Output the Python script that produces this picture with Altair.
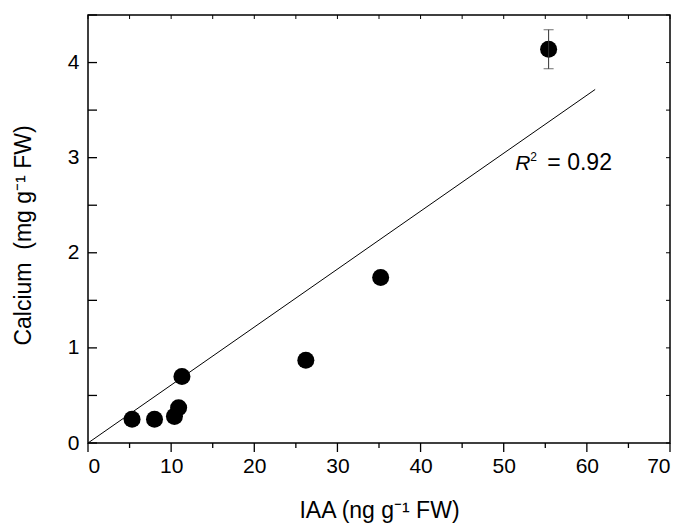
import altair as alt
import numpy as np
import pandas as pd

# ---- data ----
iaa = [5.3, 8.0, 10.4, 10.9, 11.3, 26.2, 35.2, 55.4]
calcium = [0.25, 0.25, 0.28, 0.37, 0.70, 0.87, 1.74, 4.14]
err_x = [55.4]
err_mean = [4.14]
err_sd = [0.205]
fit_x = [0.0, 61.0]
x_major = list(range(0, 80, 10))
x_minor = list(range(5, 70, 10))
x_all = list(range(0, 75, 5))
y_ticks = [i * 0.5 for i in range(10)]
r2_text = "= 0.92"

# regression through the origin
xa, ya = np.array(iaa), np.array(calcium)
slope = float((xa * ya).sum() / (xa * xa).sum())
fit_y = [slope * v for v in fit_x]

W, H = 582, 428

pts = pd.DataFrame({"x": iaa, "y": calcium})
fit = pd.DataFrame({"x": fit_x, "y": fit_y})
err = pd.DataFrame({"x": err_x, "lo": [m - s for m, s in zip(err_mean, err_sd)],
                    "hi": [m + s for m, s in zip(err_mean, err_sd)]})
one = pd.DataFrame({"k": [0]})

FONT = "Liberation Sans"
xs = alt.Scale(domain=[0, 70], nice=False, zero=False)
ys = alt.Scale(domain=[0, 4.5], nice=False, zero=False)

x_axis = alt.Axis(values=x_major, format="d", ticks=False,
                  domain=False, grid=False,
                  labelFont=FONT, labelFontSize=21, labelColor="black", labelPadding=12,
                  title="IAA (ng g⁻¹ FW)", titleFont=FONT, titleFontSize=23,
                  titleFontWeight="normal", titleColor="black",
                  titleY=74, titleBaseline="alphabetic")
y_axis = alt.Axis(values=y_ticks, labelExpr="datum.value % 1 === 0 ? format(datum.value, 'd') : ''",
                  ticks=False, labelPadding=9, domain=False, grid=False,
                  labelFont=FONT, labelFontSize=21, labelColor="black",
                  title="Calcium \u00a0(mg g⁻¹ FW)", titleFont=FONT, titleFontSize=23,
                  titleFontWeight="normal", titleColor="black",
                  titleX=-65, titleY=220, titleAlign="center", titleBaseline="middle")

points = alt.Chart(pts).mark_circle(size=290, color="black", opacity=1).encode(
    x=alt.X("x:Q", scale=xs, axis=x_axis),
    y=alt.Y("y:Q", scale=ys, axis=y_axis),
)

# tick marks (drawn through the scales)
def xticks(vals, y0, y1, w=1.3):
    return alt.Chart(pd.DataFrame({"t": vals})).mark_rule(color="black", strokeWidth=w).encode(
        x=alt.X("t:Q", scale=xs, axis=None), y=alt.value(y0), y2=alt.value(y1))

def yticks(vals, x0, x1, w=1.3):
    return alt.Chart(pd.DataFrame({"t": vals})).mark_rule(color="black", strokeWidth=w).encode(
        y=alt.Y("t:Q", scale=ys, axis=None), x=alt.value(x0), x2=alt.value(x1))

tick_layers = [
    xticks(x_major, H, H + 9),      # bottom, outward, major
    xticks(x_minor, H, H + 5),      # bottom, outward, minor
    xticks(x_all, 0, 4, 1),         # top, inward
    yticks(y_ticks, 0, 9),          # left, inward
    yticks(y_ticks, W - 4, W, 1),   # right, inward
]

line = alt.Chart(fit).mark_line(color="black", strokeWidth=1).encode(
    x=alt.X("x:Q", scale=xs, axis=None), y=alt.Y("y:Q", scale=ys, axis=None))

ebar = alt.Chart(err).mark_rule(color="#333", strokeWidth=1).encode(
    x=alt.X("x:Q", scale=xs, axis=None), y=alt.Y("lo:Q", scale=ys, axis=None), y2="hi:Q")
cap_lo = alt.Chart(err).mark_tick(color="#333", thickness=1, size=10, orient="horizontal").encode(
    x=alt.X("x:Q", scale=xs, axis=None), y=alt.Y("lo:Q", scale=ys, axis=None))
cap_hi = alt.Chart(err).mark_tick(color="#333", thickness=1, size=10, orient="horizontal").encode(
    x=alt.X("x:Q", scale=xs, axis=None), y=alt.Y("hi:Q", scale=ys, axis=None))

R_X, R_Y = 51.4, 2.87
def label(text, size, style="normal", dx=0, dy=0):
    return alt.Chart(one).mark_text(text=text, font=FONT, fontSize=size, fontStyle=style,
                                    align="left", baseline="alphabetic", color="black",
                                    dx=dx, dy=dy).encode(
        x=alt.X(datum=R_X, scale=xs, axis=None), y=alt.Y(datum=R_Y, scale=ys, axis=None))

r_txt = label("R", 21, "italic")
sup_txt = label("2", 12, dx=15, dy=-9)
eq_txt = label(r2_text, 23, dx=32)

chart = alt.layer(
    points, *tick_layers, line, ebar, cap_lo, cap_hi, r_txt, sup_txt, eq_txt
).resolve_axis(x="independent", y="independent").properties(
    width=W, height=H,
    autosize=alt.AutoSizeParams(type="none"),
    padding={"left": 80, "top": 7, "right": 3, "bottom": 84},
    background="white",
).configure_view(stroke="black", strokeWidth=1.5)

chart.save("out.html", embed_options={"renderer": "svg", "actions": False})
